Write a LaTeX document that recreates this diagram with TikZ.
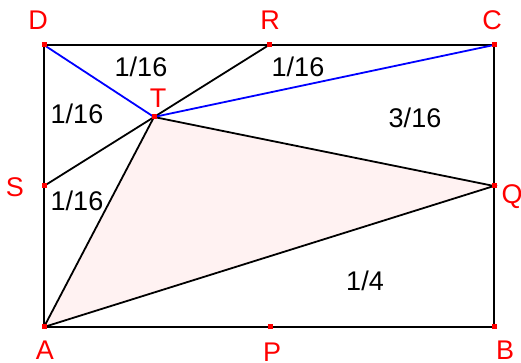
\documentclass[tikz,border=0pt]{standalone}
\usepackage{fontspec}
\setmainfont{Liberation Sans}
\usepackage{tikz}
\usetikzlibrary{positioning}

\begin{document}
\begin{tikzpicture}[
  x=1pt, y=1pt,
  pt/.style={rectangle, fill=red, inner sep=0pt, minimum size=5pt},
  lbl/.style={text=red, font=\fontsize{27}{30}\selectfont, inner sep=0pt},
  area/.style={font=\fontsize{27}{30}\selectfont, inner sep=0pt},
  edge/.style={line width=1.8pt, black},
  diag/.style={line width=1.8pt, blue}
]
\useasboundingbox (0,0) rectangle (521,363);

% the points
\node[pt] (A) at (44,36) {};
\node[pt] (B) at (494,36) {};
\node[pt] (C) at (494,318) {};
\node[pt] (D) at (44,318) {};
\node[pt] (P) at (270,36) {};
\node[pt] (Q) at (494,177) {};
\node[pt] (R) at (269,318) {};
\node[pt] (S) at (44,177) {};
\node[pt] (T) at (154,246) {};

% shaded triangle
\fill[red!5] (A.center) -- (T.center) -- (Q.center) -- cycle;

% sides and segments
\draw[edge] (A.center) -- (B.center) -- (C.center) -- (D.center) -- cycle;
\draw[edge] (S.center) -- (R.center);
\draw[edge] (A.center) -- (T.center) -- (Q.center) -- (A.center);
\draw[diag] (D.center) -- (T.center) -- (C.center);

% redraw points on top
\foreach \p in {A,B,C,D,P,Q,R,S,T}
  \node[pt] at (\p) {};

% letters
\node[lbl] (labD) at ([shift={(-6,25)}]D) {D};
\node[lbl] (labR) at ([shift={(1,25)}]R) {R};
\node[lbl] (labC) at ([shift={(-2,25)}]C) {C};
\node[lbl] (labT) at ([shift={(4,19)}]T) {T};
\node[lbl] (labS) at ([shift={(-29,-1)}]S) {S};
\node[lbl] (labQ) at ([shift={(18,-11)}]Q) {Q};
\node[lbl] (labA) at ([shift={(1,-23)}]A) {A};
\node[lbl] (labP) at ([shift={(2,-25)}]P) {P};
\node[lbl] (labB) at ([shift={(11,-23)}]B) {B};

% areas
\node[area] (a1) at (141,296) {1/16};
\node[area] (a2) at (298,296) {1/16};
\node[area] (a3) at (77,249) {1/16};
\node[area] (a4) at (77,162) {1/16};
\node[area] (a5) at (415,245) {3/16};
\node[area] (a6) at (365,82) {1/4};
\end{tikzpicture}
\end{document}
